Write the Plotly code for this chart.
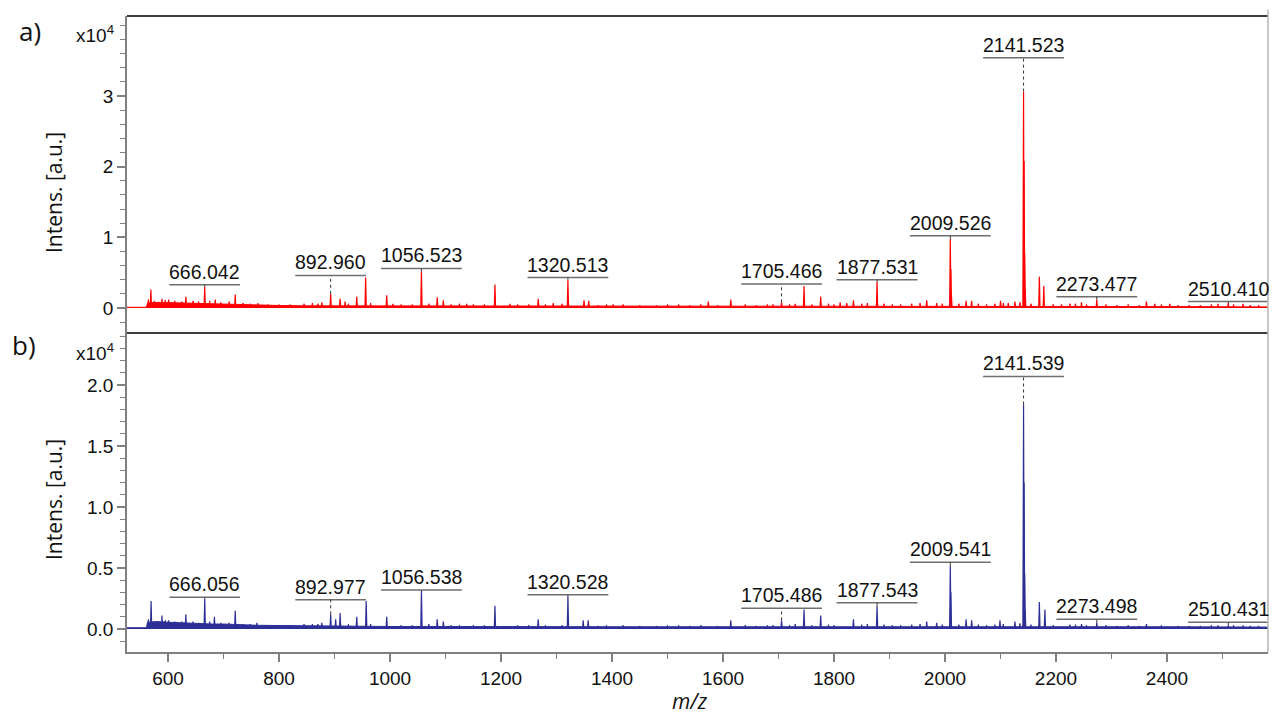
import plotly.graph_objects as go

# ---------------- data (intensity in units of 1e4 a.u.) ----------------
# Panel a) peaks
peak_mz_a = [564.5, 569.0, 589, 601, 632, 666.042, 685, 721, 762, 877, 892.960, 910, 919, 940,
             956, 994, 1005, 1056.523, 1085, 1096, 1138, 1189, 1216, 1267, 1294, 1320.513, 1349.5,
             1358, 1402, 1573.5, 1614, 1705.466, 1730, 1746, 1776, 1811, 1823, 1835, 1877.531,
             1967, 1985, 2009.526, 2010.5, 2011.5, 2038, 2048, 2100, 2114, 2126, 2141.523, 2142.5,
             2143.5, 2144.5, 2170, 2178, 2210, 2246, 2273.477, 2363, 2378, 2405, 2492, 2510.410, 2537]
peak_int_a = [0.12, 0.26, 0.13, 0.12, 0.16, 0.30, 0.12, 0.19, 0.07, 0.08, 0.20, 0.13, 0.09, 0.16,
              0.43, 0.18, 0.06, 0.52, 0.15, 0.11, 0.06, 0.33, 0.06, 0.13, 0.07, 0.40, 0.11,
              0.10, 0.05, 0.09, 0.12, 0.08, 0.06, 0.31, 0.16, 0.08, 0.07, 0.11, 0.37,
              0.11, 0.07, 0.98, 0.55, 0.20, 0.10, 0.10, 0.10, 0.07, 0.09, 3.06, 2.08,
              0.77, 0.25, 0.44, 0.31, 0.05, 0.08, 0.12, 0.09, 0.06, 0.06, 0.06, 0.07, 0.06]
small_mz_a = [575, 595, 612, 625, 645, 655, 675, 695, 710, 735, 748, 780, 800, 820, 845, 860, 870,
              925, 965, 1020, 1040, 1070, 1110, 1125, 1150, 1170, 1230, 1250, 1280, 1310, 1375,
              1390, 1420, 1450, 1480, 1500, 1520, 1540, 1560, 1590, 1640, 1660, 1680, 1690, 1720,
              1760, 1790, 1800, 1850, 1860, 1890, 1905, 1920, 1940, 1955, 1995, 2025, 2060, 2075,
              2090, 2105, 2135, 2155, 2195, 2225, 2235, 2255, 2290, 2310, 2330, 2350, 2390, 2420,
              2440, 2460, 2480, 2520, 2550, 2565]
small_int_a = [0.10, 0.11, 0.10, 0.09, 0.10, 0.09, 0.10, 0.08, 0.09, 0.07, 0.06, 0.05, 0.05, 0.05,
               0.06, 0.07, 0.06, 0.06, 0.07, 0.05, 0.05, 0.06, 0.05, 0.06, 0.05, 0.05, 0.05, 0.05,
               0.05, 0.06, 0.04, 0.05, 0.05, 0.04, 0.04, 0.05, 0.05, 0.04, 0.05, 0.04, 0.05, 0.04,
               0.05, 0.05, 0.05, 0.05, 0.06, 0.05, 0.06, 0.07, 0.06, 0.05, 0.05, 0.06, 0.07, 0.06,
               0.06, 0.06, 0.05, 0.06, 0.07, 0.08, 0.06, 0.05, 0.06, 0.06, 0.05, 0.05, 0.04, 0.05,
               0.04, 0.05, 0.04, 0.04, 0.04, 0.05, 0.05, 0.04, 0.04]
noise_mz_a = [526, 540, 555, 561, 563, 580, 600, 620, 650, 680, 700, 720, 760, 800, 850, 900, 950,
              1000, 1100, 1200, 1400, 1600, 1800, 2000, 2100, 2200, 2400, 2582]
noise_int_a = [0.01, 0.015, 0.01, 0.01, 0.07, 0.08, 0.075, 0.07, 0.065, 0.06, 0.055, 0.05, 0.04,
               0.035, 0.03, 0.03, 0.03, 0.025, 0.025, 0.02, 0.02, 0.02, 0.025, 0.025, 0.03, 0.02,
               0.02, 0.015]
labels_a = ["666.042", "892.960", "1056.523", "1320.513", "1705.466", "1877.531", "2009.526",
            "2141.523", "2273.477", "2510.410"]
label_level_a = [0.33, 0.46, 0.56, 0.43, 0.34, 0.40, 1.02, 3.54, 0.16, 0.09]

# Panel b) peaks
peak_mz_b = [564.5, 569.4, 589, 601, 632, 666.056, 683.5, 721, 760, 877, 892.977, 902, 910, 940,
             957, 994, 1056.538, 1085, 1096, 1189, 1267, 1320.528, 1348, 1357, 1614, 1705.486,
             1730, 1746, 1776, 1835, 1877.543, 1967, 1985, 2009.541, 2010.5, 2038, 2048, 2099,
             2126, 2141.539, 2142.5, 2143.5, 2144.5, 2170, 2180, 2246, 2273.498, 2363, 2492,
             2510.431, 2537]
peak_int_b = [0.08, 0.23, 0.11, 0.07, 0.12, 0.25, 0.10, 0.15, 0.05, 0.05, 0.12, 0.08, 0.13, 0.10,
              0.23, 0.10, 0.32, 0.08, 0.06, 0.19, 0.08, 0.27, 0.07, 0.07, 0.07, 0.07,
              0.04, 0.16, 0.11, 0.08, 0.19, 0.06, 0.05, 0.52, 0.30, 0.08, 0.07, 0.07,
              0.06, 1.84, 1.20, 0.45, 0.15, 0.22, 0.16, 0.04, 0.05, 0.04, 0.03,
              0.03, 0.03]
small_mz_b = small_mz_a
small_int_b = [0.06, 0.07, 0.06, 0.06, 0.06, 0.05, 0.06, 0.05, 0.05, 0.04, 0.04, 0.03, 0.03, 0.03,
               0.04, 0.04, 0.04, 0.04, 0.04, 0.03, 0.03, 0.04, 0.03, 0.03, 0.03, 0.03, 0.03, 0.03,
               0.03, 0.03, 0.025, 0.03, 0.03, 0.025, 0.025, 0.03, 0.03, 0.025, 0.03, 0.025, 0.03,
               0.025, 0.03, 0.03, 0.03, 0.03, 0.035, 0.03, 0.035, 0.04, 0.035, 0.03, 0.03, 0.035,
               0.04, 0.035, 0.035, 0.035, 0.03, 0.035, 0.04, 0.045, 0.035, 0.03, 0.035, 0.035,
               0.03, 0.03, 0.025, 0.03, 0.025, 0.03, 0.025, 0.025, 0.025, 0.03, 0.03, 0.025, 0.025]
noise_mz_b = noise_mz_a
noise_int_b = [0.01, 0.012, 0.01, 0.01, 0.055, 0.06, 0.055, 0.05, 0.045, 0.04, 0.04, 0.035, 0.03,
               0.028, 0.025, 0.025, 0.025, 0.02, 0.02, 0.018, 0.018, 0.018, 0.02, 0.02, 0.022,
               0.018, 0.018, 0.015]
labels_b = ["666.056", "892.977", "1056.538", "1320.528", "1705.486", "1877.543", "2009.541",
            "2141.539", "2273.498", "2510.431"]
label_level_b = [0.26, 0.24, 0.32, 0.28, 0.17, 0.215, 0.547, 2.07, 0.08, 0.055]

x_range = [526, 2582]
x_ticks = [600, 800, 1000, 1200, 1400, 1600, 1800, 2000, 2200, 2400]
ya_range = [-0.354, 4.13]
yb_range = [-0.189, 2.426]
ya_ticks = [0, 1, 2, 3]
yb_ticks = [0, 0.5, 1.0, 1.5, 2.0]

# ---------------- styling ----------------
RED = "#ff0000"
BLUE = "#2c2f96"
NARROW = "Liberation Sans Narrow, Arial Narrow, Liberation Sans, Arial, sans-serif"
SANS = "Open Sans, Noto Sans, sans-serif"
AXC = "#808080"
W, H = 1277, 717
ML, MR, MT, MB = 127, 9, 16, 65
split = 319 / 636.0


def sticks(mz, h, hw=1.2):
    xs, ys = [], []
    for m, v in zip(mz, h):
        xs += [m - hw, m, m + hw, None]
        ys += [0, v, 0, None]
    return xs, ys


fig = go.Figure()
for (nmz, nint, smz, sint, pmz, pint, col, xa, ya) in [
        (noise_mz_a, noise_int_a, small_mz_a, small_int_a, peak_mz_a, peak_int_a, RED, "x", "y"),
        (noise_mz_b, noise_int_b, small_mz_b, small_int_b, peak_mz_b, peak_int_b, BLUE, "x2", "y2")]:
    fig.add_trace(go.Scatter(x=nmz, y=nint, mode="lines", fill="tozeroy", fillcolor=col,
                             line=dict(color=col, width=1), xaxis=xa, yaxis=ya,
                             hoverinfo="skip", showlegend=False))
    sx, sy = sticks(smz, sint, 1.5)
    fig.add_trace(go.Scatter(x=sx, y=sy, mode="lines", line=dict(color=col, width=1),
                             xaxis=xa, yaxis=ya, hoverinfo="skip", showlegend=False))
    px, py = sticks(pmz, pint, 1.2)
    fig.add_trace(go.Scatter(x=px, y=py, mode="lines", line=dict(color=col, width=1.2),
                             xaxis=xa, yaxis=ya, showlegend=False))

shapes = []
annotations = []
for labels, levels, pmz, pint, xr, yr in [(labels_a, label_level_a, peak_mz_a, peak_int_a, "x", "y"),
                                          (labels_b, label_level_b, peak_mz_b, peak_int_b, "x2", "y2")]:
    for txt, lev in zip(labels, levels):
        m = float(txt)
        top = max(v for mm, v in zip(pmz, pint) if abs(mm - m) < 0.5)
        hw = 9.1 * len(txt)
        shapes.append(dict(type="line", xref=xr, yref=yr, x0=m - hw, x1=m + hw, y0=lev, y1=lev,
                           line=dict(color="#6e6e6e", width=1.5)))
        if lev > top:
            shapes.append(dict(type="line", xref=xr, yref=yr, x0=m, x1=m, y0=top, y1=lev,
                               line=dict(color="#333333", width=1, dash="dot")))
        annotations.append(dict(x=m, y=lev, xref=xr, yref=yr, text=txt, showarrow=False,
                                yanchor="bottom", xanchor="center", yshift=0,
                                font=dict(family=NARROW, size=19.5, color="#111111")))

# frame lines
shapes += [
    dict(type="line", xref="paper", yref="paper", x0=0, x1=1, y0=1, y1=1,
         line=dict(color="#3c3c3c", width=2)),
    dict(type="line", xref="paper", yref="paper", x0=0, x1=1, y0=split, y1=split,
         line=dict(color="#3c3c3c", width=2)),
    dict(type="line", xref="paper", yref="paper", x0=1, x1=1, y0=0, y1=1.01,
         line=dict(color="#b4b4b4", width=1.5)),
]


def px2paper_x(px):
    return (px - ML) / (W - ML - MR)


def px2paper_y(py):
    return (H - MB - py) / (H - MT - MB)


def ptext(px, py, text, family, size, angle=0):
    return dict(x=px2paper_x(px), y=px2paper_y(py), xref="paper", yref="paper", text=text,
                xanchor="center", yanchor="middle", textangle=angle, showarrow=False,
                font=dict(family=family, size=size, color="#111111"))


annotations += [
    ptext(30, 31, "a)", SANS, 26),
    ptext(24, 345, "b)", SANS, 26),
    ptext(95, 34, "x10<sup>4</sup>", NARROW, 19),
    ptext(95, 352, "x10<sup>4</sup>", NARROW, 19),
    ptext(54, 193, "Intens. [a.u.]", SANS, 21, -90),
    ptext(54, 500, "Intens. [a.u.]", SANS, 21, -90),
    ptext(690, 701, "<i>m/z</i>", SANS, 21),
]

tickfont = dict(family=NARROW, size=19, color="#111111")
yax_common = dict(showline=True, linecolor=AXC, linewidth=1.5, ticks="outside", ticklen=8,
                  tickcolor=AXC, tickwidth=1.5, showgrid=False, zeroline=False, tickfont=tickfont,
                  fixedrange=True)

fig.update_layout(
    width=W, height=H, margin=dict(l=ML, r=MR, t=MT, b=MB),
    paper_bgcolor="white", plot_bgcolor="white", showlegend=False,
    xaxis=dict(domain=[0, 1], anchor="y", range=x_range, visible=False, showgrid=False),
    yaxis=dict(domain=[split, 1], anchor="x", range=ya_range, tickvals=ya_ticks,
               ticktext=[str(v) for v in ya_ticks],
               minor=dict(dtick=0.2, tick0=0, ticks="outside", ticklen=5, tickcolor=AXC,
                          tickwidth=1.2, showgrid=False), **yax_common),
    xaxis2=dict(domain=[0, 1], anchor="y2", range=x_range, tickvals=x_ticks, showline=True,
                linecolor=AXC, linewidth=1.5, ticks="outside", ticklen=8, tickcolor=AXC,
                tickwidth=1.5, showgrid=False, zeroline=False, tickfont=tickfont,
                minor=dict(dtick=100, tick0=0, ticks="outside", ticklen=5, tickcolor=AXC,
                           tickwidth=1.2, showgrid=False)),
    yaxis2=dict(domain=[0, split], anchor="x2", range=yb_range, tickvals=yb_ticks,
                ticktext=["%.1f" % v for v in yb_ticks],
                minor=dict(dtick=0.1, tick0=0, ticks="outside", ticklen=5, tickcolor=AXC,
                           tickwidth=1.2, showgrid=False), **yax_common),
    shapes=shapes, annotations=annotations,
)

fig.write_html("out.html", config={"displayModeBar": False},
               post_script="document.body.style.margin='0px';")
